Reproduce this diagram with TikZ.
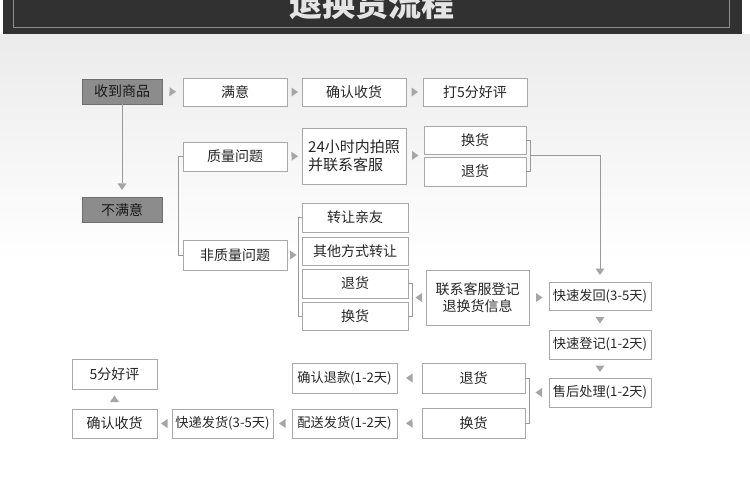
\documentclass[tikz,border=0pt]{standalone}
\usepackage{fontspec}
\setmainfont{Noto Sans CJK SC}
\usetikzlibrary{arrows.meta,positioning,calc}
\definecolor{pbar}{HTML}{313131}
\definecolor{pbarline}{HTML}{8C8C8C}
\definecolor{ptitle}{HTML}{E4E4E4}
\definecolor{pback}{HTML}{EBEBEB}
\definecolor{pedge}{HTML}{A8A8A8}
\definecolor{pdark}{HTML}{8C8C8C}
\definecolor{pdarkd}{HTML}{6E6E6E}
\definecolor{ptext}{HTML}{262626}
\definecolor{pline}{HTML}{9A9A9A}
\definecolor{ptri}{HTML}{A6A6A6}
\tikzset{
  % white step box with a light grey outline
  box/.style   = {rectangle, draw=pedge, fill=white, line width=0.8pt, text=ptext,
                  font=\fontsize{14}{17}\selectfont, align=center, inner sep=0pt,
                  minimum width=104pt, minimum height=28pt},
  dbox/.style  = {box, draw=pdarkd, fill=pdark, text=black!90,
                  minimum width=80pt, minimum height=25pt},
  days/.style  = {box, font=\fontsize{13.2}{16}\selectfont},
  link/.style  = {draw=pline, line width=0.8pt},
  tip/.style   = {midway, sloped, allow upside down},
  tri/.pic     = {\fill[ptri] (3.5,0) -- (-3,4.5) -- (-3,-4.5) -- cycle;},
  title/.style = {text=ptitle, font=\fontsize{33}{36}\selectfont\bfseries, inner sep=0pt},
}

\begin{document}
\begin{tikzpicture}[x=1pt,y=-1pt]
\useasboundingbox (0,0) rectangle (750,477);
\clip (0,0) rectangle (750,477);
% --- background and header bar ---------------------------------------
\fill[white] (0,0) rectangle (750,477);
\shade[top color=pback, bottom color=white] (0,34) rectangle (750,260);
\fill[pbar] (3,-5) rectangle (742,34);
\draw[pbarline, line width=0.8pt] (13,-10) rectangle (729,27);
\node[title, anchor=base] (title) at (372,16) {退换货流程};
% --- first row ---------------------------------------------------------
\node[dbox] (recv)     at (122,91.5)  {收到商品};
\node[box]  (pleased)  at (235,92)    {满意};
\node[box]  (confirm1) at (354,92)    {确认收货};
\node[box]  (rate)     at (475,92)    {打5分好评};
\node[dbox] (unsat)    at (122,210)   {不满意};
% --- quality problem ---------------------------------------------------
\node[box, minimum height=29pt] (quality) at (235,156.5) {质量问题};
\node[box, minimum height=56pt, align=left, font=\fontsize{15}{18}\selectfont]
     (photo) at (354,156) {24小时内拍照\\并联系客服};
\node[box, minimum width=102pt] (qswap) at (475,140)   {换货};
\node[box, minimum width=102pt, minimum height=29pt] (qret) at (475,171.5) {退货};
% --- other problems ----------------------------------------------------
\node[box, minimum height=30pt] (nonq) at (235,255) {非质量问题};
\node[box, minimum width=106pt, minimum height=29pt] (give)  at (355,217.5) {转让亲友};
\node[box, minimum width=106pt] (other) at (355,251)   {其他方式转让};
\node[box, minimum width=106pt, minimum height=29pt] (nret)  at (355,283.5) {退货};
\node[box, minimum width=106pt] (nswap) at (355,316)   {换货};
\node[box, minimum width=103pt, minimum height=55pt] (contact) at (477.5,297.5) {联系客服登记\\退换货信息};
% --- after-sales column ------------------------------------------------
\node[days, minimum width=102pt] (sendback) at (600,296)   {快速发回(3-5天)};
\node[days, minimum width=102pt, minimum height=29pt] (register) at (600,344.5) {快速登记(1-2天)};
\node[days, minimum width=102pt, minimum height=29pt] (service)  at (600,392.5) {售后处理(1-2天)};
\node[box, minimum width=103pt, minimum height=30pt] (bret)   at (473.5,378) {退货};
\node[box, minimum width=103pt, minimum height=30pt] (bswap)  at (473.5,423) {换货};
\node[days, minimum width=105pt, minimum height=30pt] (refund) at (344.5,378) {确认退款(1-2天)};
\node[days, minimum width=105pt, minimum height=29pt] (ship)   at (344.5,423.5) {配送发货(1-2天)};
\node[days, minimum width=101pt, minimum height=29pt] (express) at (222.5,423.5) {快递发货(3-5天)};
\node[box, minimum width=85pt, minimum height=29pt]  (confirm2) at (114.5,423.5) {确认收货};
\node[box, minimum width=85pt, minimum height=30pt]  (praise)   at (114.5,374)   {5分好评};
% --- markers along the first row --------------------------------------
\path (recv) -- pic[tip]{tri} (pleased);
\path (pleased) -- pic[tip]{tri} (confirm1);
\path (confirm1) -- pic[tip]{tri} (rate);
\draw[link, shorten >=14pt] (recv) -- (unsat);
\path (recv) -- pic[tip, pos=0.885]{tri} (unsat);
% --- brackets ----------------------------------------------------------
\draw[link] (quality.west) -- ++(-4,0) |- (nonq.west);
\draw[link] (give.west) -- ++(-3,0) |- (nswap.west);
\draw[link] (qswap.east) -- ++(4,0) |- (qret.east);
\draw[link] (nret.east) -- ++(4,0) |- (nswap.east);
\draw[link] (bret.east) -- ++(4,0) |- (bswap.east);
\coordinate (qsplit) at ($(qswap.south west)!0.5!(qret.north west)$);
\coordinate (qjoin)  at ($(qswap.east)!0.5!(qret.east)+(4,0)$);
\draw[link, shorten >=13pt] (qjoin) -| (sendback);
\path (qjoin -| sendback) -- pic[tip, pos=0.92]{tri} (sendback);
% --- markers between the steps -----------------------------------------
\path (quality) -- pic[tip]{tri} (photo);
\path (photo.east |- qsplit) -- pic[tip]{tri} (qsplit);
\path (nonq.east) -- pic[tip]{tri} ([xshift=-3pt]nonq.east -| give.west);
\path (contact.west) -- pic[tip]{tri} ([xshift=4pt]nret.east |- contact.west);
\path (contact.east) -- pic[tip]{tri} (contact.east -| sendback.west);
\path (sendback) -- pic[tip]{tri} (register);
\path (register) -- pic[tip]{tri} (service);
\path (service.west) -- pic[tip]{tri} ([xshift=4pt]bret.east |- service.west);
\path (bret) -- pic[tip]{tri} (refund);
\path (bswap) -- pic[tip]{tri} (ship);
\path (ship) -- pic[tip]{tri} (express);
\path (express) -- pic[tip]{tri} (confirm2);
\path (confirm2) -- pic[tip]{tri} (praise);
\end{tikzpicture}
\end{document}
